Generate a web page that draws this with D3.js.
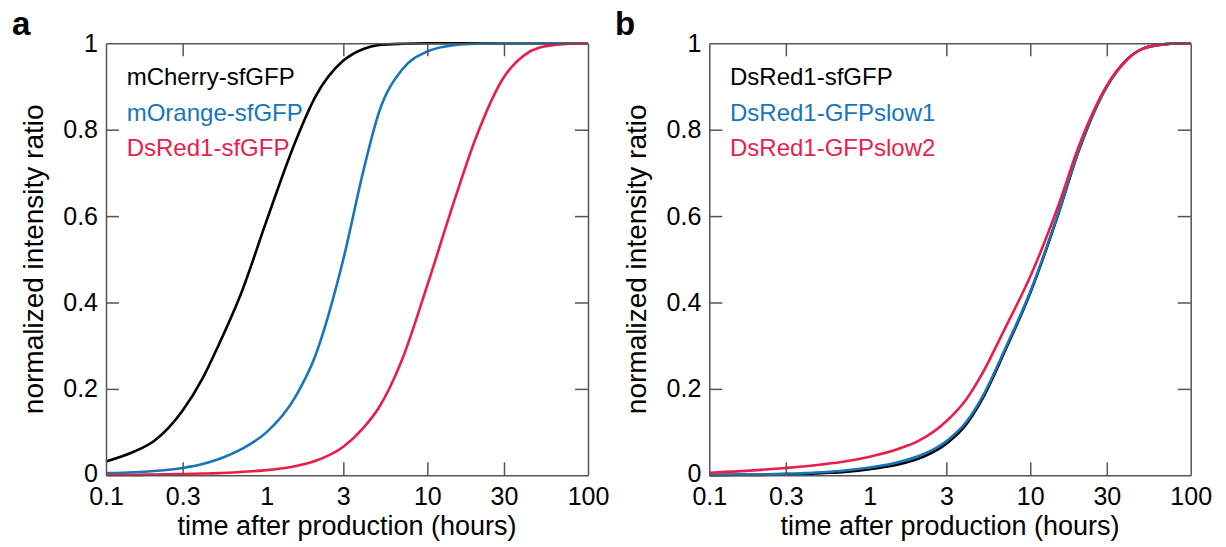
<!DOCTYPE html>
<html>
<head>
<meta charset="utf-8">
<script src="https://cdn.jsdelivr.net/npm/d3@7"></script>
<style>
  html, body { margin: 0; padding: 0; background: #fff; }
  svg { display: block; font-family: "Liberation Sans", Arial, sans-serif; }
</style>
</head>
<body>
<svg id="chart" width="1226" height="547"></svg>
<script>
// ---------- data ----------
const timeHours = [0.1, 0.15, 0.2, 0.3, 0.4, 0.5, 0.7, 1, 1.5, 2, 3, 4, 5, 7, 10, 15, 20, 30, 40, 50, 70, 100];

// panel a
const mCherrySfGFP  = [0.032, 0.055, 0.08, 0.15, 0.225, 0.30, 0.425, 0.59, 0.77, 0.875, 0.96, 0.987, 0.996, 0.999, 1, 1, 1, 1, 1, 1, 1, 1];
const mOrangeSfGFP  = [0.005, 0.007, 0.01, 0.017, 0.026, 0.037, 0.061, 0.10, 0.18, 0.275, 0.50, 0.705, 0.84, 0.94, 0.981, 0.996, 0.999, 1, 1, 1, 1, 1];
const dsRed1SfGFP_a = [0.001, 0.001, 0.002, 0.003, 0.004, 0.005, 0.008, 0.012, 0.021, 0.033, 0.066, 0.11, 0.157, 0.27, 0.44, 0.645, 0.78, 0.922, 0.972, 0.99, 0.998, 1];

// panel b
const dsRed1SfGFP_b  = [0.0, 0.001, 0.001, 0.002, 0.003, 0.005, 0.008, 0.014, 0.025, 0.038, 0.073, 0.118, 0.175, 0.29, 0.422, 0.606, 0.75, 0.9, 0.962, 0.987, 0.998, 1];
const dsRed1GFPslow1 = [0.001, 0.002, 0.002, 0.004, 0.005, 0.007, 0.011, 0.018, 0.03, 0.044, 0.079, 0.124, 0.18, 0.294, 0.425, 0.608, 0.752, 0.9, 0.962, 0.987, 0.998, 1];
const dsRed1GFPslow2 = [0.006, 0.009, 0.012, 0.017, 0.021, 0.025, 0.032, 0.043, 0.061, 0.079, 0.125, 0.176, 0.234, 0.342, 0.46, 0.625, 0.76, 0.902, 0.962, 0.987, 0.998, 1];

const xTickValues = [0.1, 0.3, 1, 3, 10, 30, 100];
const xTickLabels = ["0.1", "0.3", "1", "3", "10", "30", "100"];
const yTickValues = [0, 0.2, 0.4, 0.6, 0.8, 1];
const yTickLabels = ["0", "0.2", "0.4", "0.6", "0.8", "1"];

const xTitle = "time after production (hours)";
const yTitle = "normalized intensity ratio";

const panels = [
  {
    letter: "a",
    series: [
      { name: "mCherry-sfGFP", values: mCherrySfGFP, color: "#000000" },
      { name: "mOrange-sfGFP", values: mOrangeSfGFP, color: "#1576bd" },
      { name: "DsRed1-sfGFP", values: dsRed1SfGFP_a, color: "#ea1d4b" }
    ]
  },
  {
    letter: "b",
    series: [
      { name: "DsRed1-sfGFP", values: dsRed1SfGFP_b, color: "#000000" },
      { name: "DsRed1-GFPslow1", values: dsRed1GFPslow1, color: "#1576bd" },
      { name: "DsRed1-GFPslow2", values: dsRed1GFPslow2, color: "#ea1d4b" }
    ]
  }
];

// ---------- layout ----------
const layout = [
  { x0: 106, x1: 588, letterX: 12, yTitleX: 43 },
  { x0: 709.3, x1: 1190.7, letterX: 615, yTitleX: 646 }
];
const plotTop = 43.3, plotBottom = 475.3;
const tickLen = 13;
const axisColor = "#555555";
const fontFam = '"Liberation Sans", Arial, sans-serif';

const svg = d3.select("#chart");

panels.forEach((panel, i) => {
  const L = layout[i];
  const x = d3.scaleLog().domain([0.1, 100]).range([L.x0, L.x1]);
  const y = d3.scaleLinear().domain([0, 1]).range([plotBottom, plotTop]);
  const g = svg.append("g");

  // lines
  const line = d3.line()
    .x((d, k) => x(timeHours[k]))
    .y(d => y(d))
    .curve(d3.curveMonotoneX);
  panel.series.forEach(s => {
    g.append("path")
      .datum(s.values)
      .attr("d", line)
      .attr("fill", "none")
      .attr("stroke", s.color)
      .attr("stroke-width", 2.6)
      .attr("stroke-linejoin", "round");
  });

  // axes
  const styleAxis = sel => {
    sel.selectAll(".domain").attr("stroke", axisColor).attr("stroke-width", 1.5);
    sel.selectAll(".tick line").attr("stroke", axisColor).attr("stroke-width", 1.5);
    sel.selectAll(".tick text").attr("fill", "#000").attr("font-size", 25)
      .attr("font-family", fontFam);
  };

  g.append("g").attr("transform", `translate(0,${plotBottom})`)
    .call(d3.axisBottom(x).tickValues(xTickValues)
      .tickFormat((d, k) => xTickLabels[k]).tickSize(-tickLen).tickSizeOuter(0).tickPadding(12))
    .call(styleAxis)
    .call(a => a.selectAll(".tick text").attr("dy", "0.71em"));

  g.append("g").attr("transform", `translate(0,${plotTop})`)
    .call(d3.axisTop(x).tickValues(xTickValues).tickFormat("").tickSize(-tickLen).tickSizeOuter(0))
    .call(styleAxis);

  g.append("g").attr("transform", `translate(${L.x0},0)`)
    .call(d3.axisLeft(y).tickValues(yTickValues)
      .tickFormat((d, k) => yTickLabels[k]).tickSize(-tickLen).tickSizeOuter(0).tickPadding(8))
    .call(styleAxis)
    .call(a => a.selectAll(".tick").filter(d => d === 0).select("text").attr("dy", "0.25em"));

  g.append("g").attr("transform", `translate(${L.x1},0)`)
    .call(d3.axisRight(y).tickValues(yTickValues).tickFormat("").tickSize(-tickLen).tickSizeOuter(0))
    .call(styleAxis);

  // hide tick marks sitting on the frame corners
  g.selectAll(".tick").filter(d => d === 0.1 || d === 100 || d === 0 || d === 1)
    .select("line").attr("stroke-opacity", 0);

  // legend
  panel.series.forEach((s, k) => {
    g.append("text")
      .attr("x", L.x0 + 20.7)
      .attr("y", 85 + k * 35.5)
      .attr("fill", s.color)
      .attr("font-size", 24)
      .text(s.name);
  });

  // axis titles
  g.append("text")
    .attr("x", (L.x0 + L.x1) / 2)
    .attr("y", 535)
    .attr("text-anchor", "middle")
    .attr("font-size", 27)
    .text(xTitle);

  g.append("text")
    .attr("transform", `translate(${L.yTitleX},${(plotTop + plotBottom) / 2}) rotate(-90)`)
    .attr("text-anchor", "middle")
    .attr("font-size", 28)
    .text(yTitle);

  // panel letter
  g.append("text")
    .attr("x", L.letterX)
    .attr("y", 35)
    .attr("font-size", 33)
    .attr("font-weight", "bold")
    .text(panel.letter);
});
</script>
</body>
</html>
